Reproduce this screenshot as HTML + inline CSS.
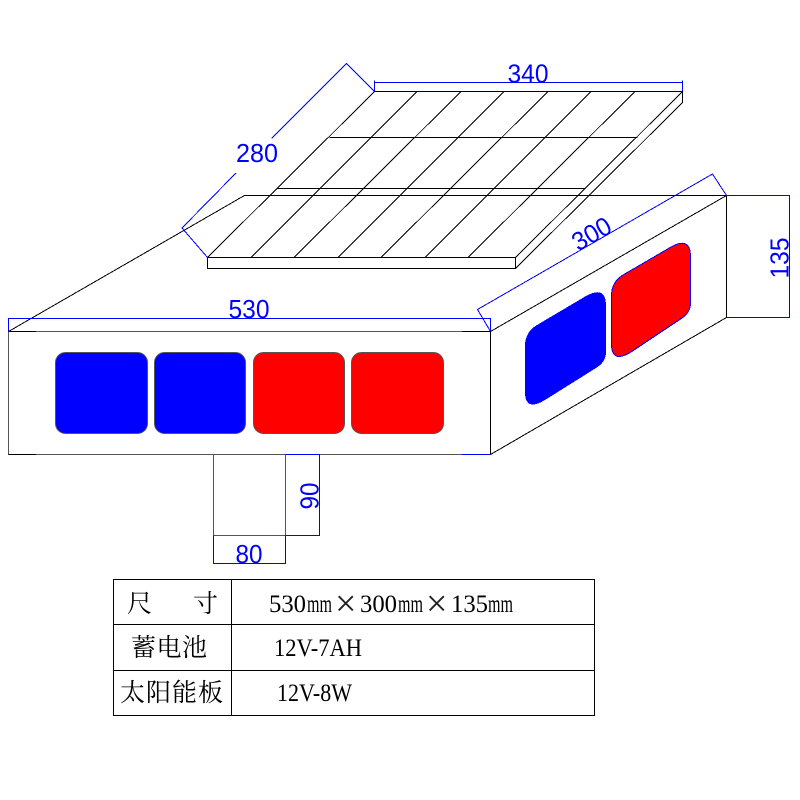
<!DOCTYPE html>
<html>
<head>
<meta charset="utf-8">
<style>
html,body{margin:0;padding:0;background:#fff;width:800px;height:800px;overflow:hidden}
svg{display:block}
.k{stroke:#000;stroke-width:1;fill:none;shape-rendering:crispEdges}
.g{stroke:#555;stroke-width:1;fill:none;shape-rendering:crispEdges}
.b{stroke:#00f;stroke-width:1;fill:none;shape-rendering:crispEdges}
.d{font-family:"Liberation Sans",sans-serif;font-size:26px;fill:#00f}
.t{font-family:"Liberation Serif","Noto Serif CJK SC",serif;font-size:25px;fill:#000}
.x{font-family:"Liberation Serif",serif;font-size:38px;fill:#222}
.c{font-family:"Liberation Serif","Noto Serif CJK SC",serif;font-size:25px;fill:#000}
</style>
</head>
<body>
<svg width="800" height="800" viewBox="0 0 800 800" xmlns="http://www.w3.org/2000/svg">
<rect width="800" height="800" fill="#fff"/>

<!-- box top and side -->
<path class="k" d="M8.5 331.5L244.5 195.5H726.5V317.5L490.5 454.5M490.5 331.5L726.5 195.5M490.5 331.5V454.5"/>

<!-- solar panel -->
<path class="k" d="M207.5 257.5L374.5 91.5M251 257.5L417 91.5M294 257.5L461 91.5M338 257.5L504 91.5M381 257.5L548 91.5M425 257.5L591 91.5M468 257.5L635 91.5M515.5 257.5L682.5 91.5M515.5 268.5L682.5 102.5"/>
<path class="k" d="M374.5 91.5H682.5V102.5M329.5 137.5H637.5M276.5 188.5H585.5"/>
<rect class="k" x="207.5" y="257.5" width="308" height="11" fill="#fff"/>

<!-- front face -->
<rect class="g" x="8.5" y="331.5" width="482" height="123"/>
<path class="k" d="M8.5 331.5H36M8.5 454.5H36M462 331.5H490.5V454.5"/>
<rect x="55.5" y="352.5" width="92" height="81" rx="10" ry="10" fill="#00f" stroke="#555"/>
<rect x="154.5" y="352.5" width="91" height="81" rx="10" ry="10" fill="#00f" stroke="#555"/>
<rect x="253.5" y="352.5" width="91" height="81" rx="10" ry="10" fill="#f00" stroke="#555"/>
<rect x="351.5" y="352.5" width="92" height="81" rx="10" ry="10" fill="#f00" stroke="#555"/>

<!-- side lights -->
<path d="M525 346Q525 332 537 325L586 296Q606 285 606 306V352Q606 362 596 368L545 400Q525 412 525 392Z" fill="#00f" shape-rendering="crispEdges"/>
<path d="M611.5 296Q611.5 282 623 275L671 247Q690.5 236 690.5 257V303Q690.5 312 682 318L631 352Q611.5 364 611.5 344Z" fill="#f00" stroke="#00f" stroke-width="1" shape-rendering="crispEdges"/>

<!-- stand -->
<path class="g" d="M213.5 454.5V535.5H285.5V454.5"/>

<!-- dimensions -->
<path class="b" d="M374.5 91.5V80.5M374.5 82.5H682.5M682.5 80.5V91.5"/>
<path class="b" d="M374.5 91.5L346.5 63.5L271.5 138.5M236 173L182 228L207.5 257.5"/>
<path class="b" d="M8.5 331.5V318.5H490.5V331.5"/>
<path class="b" d="M490.5 331.5L477.5 309.5L712.5 174L726.5 195.5H789.5V317.5H726.5"/>
<path class="b" d="M285.5 454.5H319.500V535.5H285.5"/>
<path class="b" d="M213.5 535.5V563.5H285.5V535.5"/>
<path class="b" d="M462 454.5H490.5"/>

<text class="d" x="528" y="82.500" text-anchor="middle" textLength="41" lengthAdjust="spacingAndGlyphs">340</text>
<text class="d" x="257" y="162" text-anchor="middle" textLength="42" lengthAdjust="spacingAndGlyphs">280</text>
<text class="d" x="249" y="318" text-anchor="middle" textLength="41" lengthAdjust="spacingAndGlyphs">530</text>
<text class="d" x="249" y="563" text-anchor="middle" textLength="27" lengthAdjust="spacingAndGlyphs">80</text>
<text class="d" transform="translate(318.500 496) rotate(-90)" text-anchor="middle" textLength="27" lengthAdjust="spacingAndGlyphs">90</text>
<text class="d" transform="translate(788.500 258) rotate(-90)" text-anchor="middle" textLength="41" lengthAdjust="spacingAndGlyphs">135</text>
<text class="d" transform="translate(596 241.500) rotate(-30)" text-anchor="middle" textLength="41" lengthAdjust="spacingAndGlyphs">300</text>

<!-- table -->
<g stroke="#000" stroke-width="1" fill="none" shape-rendering="crispEdges">
<rect x="113.5" y="579.5" width="481" height="136"/>
<path d="M231.500 579.500V715.500M113.500 624.500H594.500M113.500 670.500H594.500"/>
</g>
<text class="c" x="127" y="612">尺</text>
<text class="c" x="193" y="612">寸</text>
<text class="c" x="131" y="656" textLength="76" lengthAdjust="spacing">蓄电池</text>
<text class="c" x="120" y="701" textLength="103" lengthAdjust="spacing">太阳能板</text>

<text class="t" x="269" y="612" textLength="37" lengthAdjust="spacingAndGlyphs">530</text>
<text class="t" x="307" y="612" textLength="25" lengthAdjust="spacingAndGlyphs">mm</text>
<text class="x" x="335" y="616">×</text>
<text class="t" x="360" y="612" textLength="37" lengthAdjust="spacingAndGlyphs">300</text>
<text class="t" x="398" y="612" textLength="25" lengthAdjust="spacingAndGlyphs">mm</text>
<text class="x" x="426" y="616">×</text>
<text class="t" x="451" y="612" textLength="37" lengthAdjust="spacingAndGlyphs">135</text>
<text class="t" x="488" y="612" textLength="25" lengthAdjust="spacingAndGlyphs">mm</text>

<text class="t" x="274" y="656" textLength="88" lengthAdjust="spacingAndGlyphs">12V-7AH</text>
<text class="t" x="277" y="701" textLength="75" lengthAdjust="spacingAndGlyphs">12V-8W</text>
</svg>
</body>
</html>
